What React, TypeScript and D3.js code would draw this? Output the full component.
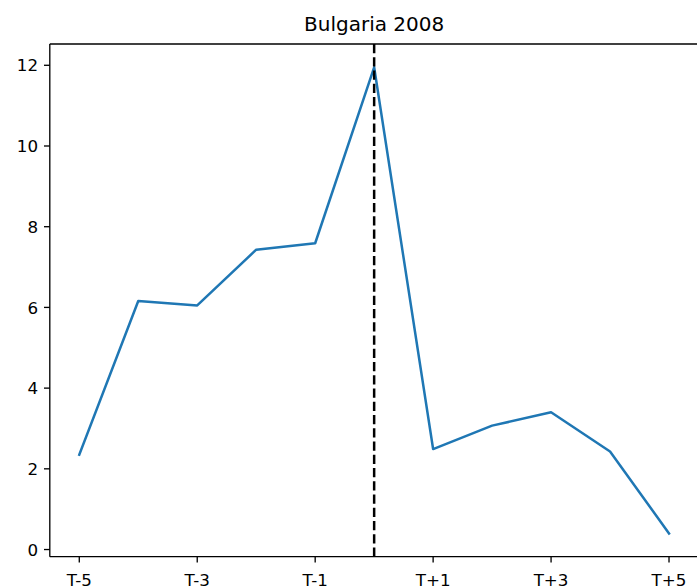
import React from "react";
import * as d3 from "d3";

const title = "Bulgaria 2008";
const periods = [-5, -4, -3, -2, -1, 0, 1, 2, 3, 4, 5];
const values = [2.35, 6.16, 6.05, 7.43, 7.59, 11.95, 2.49, 3.07, 3.40, 2.43, 0.40];
const xTicks = [-5, -3, -1, 1, 3, 5];
const xTickLabels = ["T-5", "T-3", "T-1", "T+1", "T+3", "T+5"];
const yTicks = [0, 2, 4, 6, 8, 10, 12];
const eventPeriod = 0;

const W = 697;
const H = 587;
const left = 49.8;
const right = 698.5;
const top = 44;
const bottom = 556.7;

export default function App() {
  const x = d3.scaleLinear().domain([-5.5, 5.5]).range([left, right]);
  const ymin = d3.min(values)!;
  const ymax = d3.max(values)!;
  const pad = (ymax - ymin) * 0.05;
  const y = d3.scaleLinear().domain([ymin - pad, ymax + pad]).range([bottom, top]);
  const line = d3
    .line<number>()
    .x((_, i) => x(periods[i]))
    .y((d) => y(d));
  const font = "DejaVu Sans, sans-serif";
  const tickLen = 5.8;
  return (
    <svg
      width={W}
      height={H}
      style={{ position: "absolute", left: 0, top: 0, background: "#fff" }}
      fontFamily={font}
    >
      <rect x={0} y={0} width={W} height={H} fill="#fff" />
      <path d={line(values) || ""} fill="none" stroke="#1f77b4" strokeWidth={2.5} strokeLinejoin="round" strokeLinecap="square" />
      <line
        x1={x(eventPeriod)}
        x2={x(eventPeriod)}
        y1={top}
        y2={bottom}
        stroke="#000"
        strokeWidth={2.5}
        strokeDasharray="9.25,4"
      />
      {/* spines */}
      <line x1={left} x2={left} y1={top} y2={bottom} stroke="#000" strokeWidth={1.33} />
      <line x1={left} x2={right} y1={bottom} y2={bottom} stroke="#000" strokeWidth={1.33} />
      <line x1={left} x2={right} y1={top} y2={top} stroke="#000" strokeWidth={1.33} />
      <line x1={right} x2={right} y1={top} y2={bottom} stroke="#000" strokeWidth={1.33} />
      {xTicks.map((t, i) => (
        <g key={"x" + t}>
          <line x1={x(t)} x2={x(t)} y1={bottom} y2={bottom + tickLen} stroke="#000" strokeWidth={1.33} />
          <text x={x(t)} y={585.5} textAnchor="middle" fontSize={16.7} fill="#000">
            {xTickLabels[i]}
          </text>
        </g>
      ))}
      {yTicks.map((t) => (
        <g key={"y" + t}>
          <line x1={left - tickLen} x2={left} y1={y(t)} y2={y(t)} stroke="#000" strokeWidth={1.33} />
          <text x={38} y={y(t) + 6.1} textAnchor="end" fontSize={16.7} fill="#000">
            {t}
          </text>
        </g>
      ))}
      <text x={(left + right) / 2} y={30.5} textAnchor="middle" fontSize={20} fill="#000">
        {title}
      </text>
    </svg>
  );
}
